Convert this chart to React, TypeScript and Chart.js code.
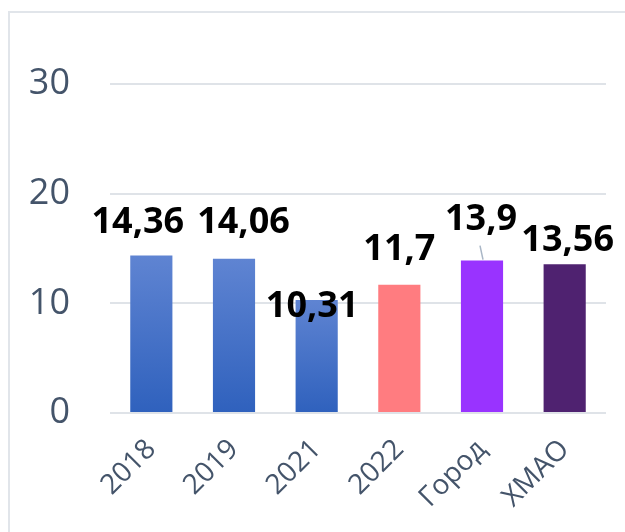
import { useEffect, useRef } from "react";
import { Chart, registerables } from "chart.js";
Chart.register(...registerables);

const categories = ["2018", "2019", "2021", "2022", "Город", "ХМАО"];
const values = [14.36, 14.06, 10.31, 11.7, 13.9, 13.56];
const valueLabels = ["14,36", "14,06", "10,31", "11,7", "13,9", "13,56"];
const yTicks = [0, 10, 20, 30];

// label placement relative to bar top (px) – style only
const labelDx = [-13.5, 9.5, -4.5, 0, -1, 3];
const labelDy = [23, 26, -17, 25, 31, 13];
const leaderIndex = 4;

const solidColors = [null, null, null, "#ff7c80", "#9933ff", "#4f2270"];
const gradTop = "#5f84d2";
const gradBottom = "#2f61bd";

const labelPlugin = {
  id: "valueLabels",
  afterDatasetsDraw(chart: any) {
    const ctx = chart.ctx;
    const meta = chart.getDatasetMeta(0);
    ctx.save();
    ctx.font = "bold 36px 'Open Sans'";
    ctx.fillStyle = "#000000";
    ctx.textAlign = "center";
    ctx.textBaseline = "alphabetic";
    meta.data.forEach((bar: any, i: number) => {
      const x = bar.x + labelDx[i];
      const y = bar.y - labelDy[i];
      ctx.fillText(valueLabels[i], x, y);
      if (i === leaderIndex) {
        ctx.strokeStyle = "#a9b6c6";
        ctx.lineWidth = 1.5;
        ctx.beginPath();
        ctx.moveTo(bar.x - 2, y + 16);
        ctx.lineTo(bar.x + 1, bar.y - 1);
        ctx.stroke();
      }
    });
    ctx.restore();
  },
};

export default function App() {
  const ref = useRef<HTMLCanvasElement>(null);
  useEffect(() => {
    if (!ref.current) return;
    const chart = new Chart(ref.current, {
      type: "bar",
      data: {
        labels: categories,
        datasets: [
          {
            data: values,
            backgroundColor: (c: any) => {
              const i = c.dataIndex;
              if (solidColors[i]) return solidColors[i] as string;
              const ch = c.chart;
              const ys = ch.scales?.y;
              if (!ys || c.raw === undefined) return gradBottom;
              const top = ys.getPixelForValue(values[i]);
              const bottom = ys.getPixelForValue(0);
              if (!isFinite(top) || !isFinite(bottom)) return gradBottom;
              const g = ch.ctx.createLinearGradient(0, top, 0, bottom);
              g.addColorStop(0, gradTop);
              g.addColorStop(1, gradBottom);
              return g;
            },
            borderWidth: 0,
            barPercentage: 0.51,
            categoryPercentage: 1,
          },
        ],
      },
      options: {
        animation: false,
        responsive: false,
        layout: { padding: { top: 84, right: 19, left: 0, bottom: 0 } },
        plugins: { legend: { display: false }, tooltip: { enabled: false } },
        scales: {
          x: {
            grid: { display: false, drawTicks: false },
            border: { display: false },
            ticks: {
              color: "#44546a",
              font: { family: "'Open Sans'", size: 28 },
              maxRotation: 45,
              minRotation: 45,
              padding: 20,
              autoSkip: false,
            },
            afterFit: (s: any) => {
              s.height = 119;
            },
          },
          y: {
            min: 0,
            max: 30,
            afterBuildTicks: (s: any) => {
              s.ticks = yTicks.map((v) => ({ value: v }));
            },
            grid: { color: "#dfe3e8", lineWidth: 2, drawTicks: false },
            border: { display: false },
            ticks: {
              color: "#44546a",
              font: { family: "'Open Sans'", size: 36 },
              padding: 40,
            },
            afterFit: (s: any) => {
              s.width = 110;
            },
          },
        },
      },
      plugins: [labelPlugin],
    });
    return () => chart.destroy();
  }, []);
  return (
    <div style={{ position: "fixed", left: 0, top: 0, width: 625, height: 532, overflow: "hidden", background: "#fff" }}>
      <div
        style={{
          position: "absolute",
          left: 8,
          top: 11,
          width: 700,
          height: 600,
          border: "2px solid #e1e5ea",
          boxSizing: "border-box",
        }}
      />
      <canvas ref={ref} width={625} height={532} style={{ position: "absolute", left: 0, top: 0 }} />
    </div>
  );
}
